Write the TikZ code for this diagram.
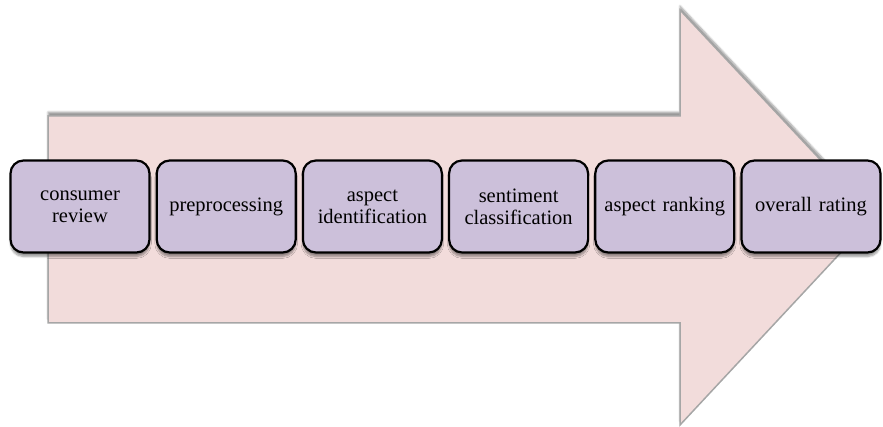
\documentclass[tikz,border=0pt]{standalone}
\usepackage{fontspec}
\setmainfont{Liberation Serif}
\usetikzlibrary{positioning}
\usetikzlibrary{shadows.blur}
\definecolor{arrowfill}{HTML}{F2DCDB}
\definecolor{arrowline}{HTML}{A6A6A6}
\definecolor{stagefill}{HTML}{CCC0DA}
\tikzset{
  stage/.style={draw=black, line width=2.2pt, rounded corners=13pt, fill=stagefill,
    minimum width=139pt, minimum height=92pt, align=center, text width=132pt,
    font=\fontsize{20.5}{22}\selectfont,
    blur shadow={shadow xshift=0pt, shadow yshift=-4pt, shadow blur steps=6}},
  bigarrow/.style={draw=arrowline, line width=1.5pt, fill=arrowfill,
    blur shadow={shadow xshift=0pt, shadow yshift=4pt, shadow blur steps=6}}
}
\begin{document}
\begin{tikzpicture}[x=1pt, y=-1pt, node distance=5pt]
    \useasboundingbox (0, 0) rectangle (883, 427);
    \draw[bigarrow] (48, 116) -- (680, 116) -- (680, 10) -- (874, 217) -- (680, 425) -- (680, 323) -- (48, 323) -- cycle;
    \node[stage] (review) at (80, 206.5) {consumer\\review};
    \node[stage, right=of review] (prep) {preprocessing};
    \node[stage, right=of prep] (aspect) {aspect\\identification};
    \node[stage, right=of aspect] (senti) {sentiment\\classification};
    \node[stage, right=of senti] (rank) {aspect ranking};
    \node[stage, right=of rank] (rating) {overall rating};
  \end{tikzpicture}
\end{document}
